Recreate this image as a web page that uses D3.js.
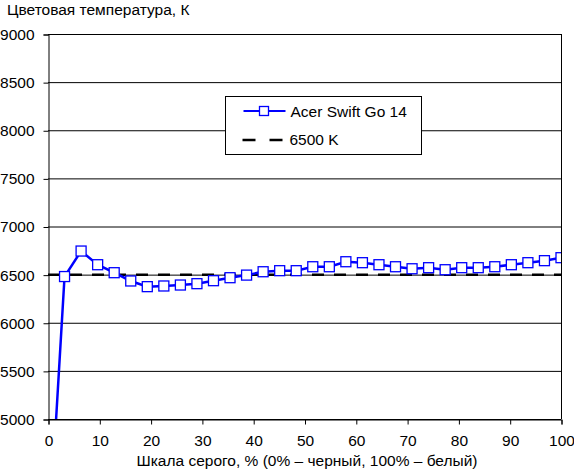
<!DOCTYPE html>
<html>
<head>
<meta charset="utf-8">
<script src="https://cdn.jsdelivr.net/npm/d3@7"></script>
<style>
body{margin:0;background:#fff;}
text{font-family:"Liberation Sans",Arial,sans-serif;}
</style>
</head>
<body>
<div id="container"></div>
<script>
// gray level, % (32 steps)
let grayLevels = d3.range(32).map(i => i * 100 / 31);
// color temperature, K
let tempValues = [3580, 6480, 6745, 6603, 6520, 6434, 6375, 6382, 6392, 6406, 6437, 6468,
	6495, 6530, 6541, 6541, 6582, 6582, 6634, 6624, 6603, 6582, 6561, 6572,
	6551, 6572, 6572, 6582, 6603, 6624, 6645, 6676];
let refTemp = 6500;
let xTicks = [0, 10, 20, 30, 40, 50, 60, 70, 80, 90, 100];
let yTicks = [5000, 5500, 6000, 6500, 7000, 7500, 8000, 8500, 9000];
let seriesName = "Acer Swift Go 14";
let refName = "6500 K";
let fontSize = "15.5px";

let margin = {top: 34, right: 13, bottom: 50, left: 48},
	width = 574 - margin.left - margin.right,
	height = 469 - margin.top - margin.bottom;

let xScale = d3.scaleLinear().domain([0, 100]).range([0, width]);
let yScale = d3.scaleLinear().domain([5000, 9000]).range([height, 0]);

let svg = d3.select("div#container").append("svg")
	.attr("width", 574).attr("height", 469)
	.append("g")
	.attr("transform", "translate(" + margin.left + "," + margin.top + ")");

svg.append("defs").append("clipPath").attr("id", "plotclip")
	.append("rect").attr("x", 0).attr("y", 0).attr("width", width).attr("height", height);

// gridlines
svg.selectAll("line.grid").data(yTicks).enter().append("line")
	.attr("class", "grid")
	.attr("x1", 0).attr("x2", width)
	.attr("y1", d => yScale(d) + 0.5).attr("y2", d => yScale(d) + 0.5)
	.attr("stroke", "black").attr("stroke-width", 1);

// right border
svg.append("line")
	.attr("x1", width + 0.5).attr("x2", width + 0.5)
	.attr("y1", 0).attr("y2", height)
	.attr("stroke", "black");

// axes
let yAxis = svg.append("g").attr("transform", "translate(0.5,0.5)")
	.call(d3.axisLeft(yScale).tickValues(yTicks).tickSize(5).tickPadding(9).tickFormat(d3.format("d")));
let xAxis = svg.append("g").attr("transform", "translate(0.5," + (height + 0.5) + ")")
	.call(d3.axisBottom(xScale).tickValues(xTicks).tickSize(5).tickPadding(10));
[xAxis, yAxis].forEach(function(ax){
	ax.select(".domain").attr("stroke", "black").attr("stroke-width", 1);
	ax.selectAll(".tick line").attr("stroke", "black");
	ax.selectAll("text").attr("fill", "black").style("font-size", fontSize)
		.style("font-family", "'Liberation Sans',Arial,sans-serif");
});

// 6500 K reference
svg.append("line")
	.attr("x1", 0).attr("x2", width)
	.attr("y1", yScale(refTemp)).attr("y2", yScale(refTemp))
	.attr("stroke", "black").attr("stroke-width", 2.5)
	.attr("stroke-dasharray", "12,10");

// series
let plot = svg.append("g").attr("clip-path", "url(#plotclip)");
let line = d3.line().x((d, i) => xScale(grayLevels[i])).y(d => yScale(d));
plot.append("path").datum(tempValues)
	.attr("fill", "none").attr("stroke", "#0000ff").attr("stroke-width", 2.5)
	.attr("d", line);
plot.selectAll("rect.mk").data(tempValues).enter().append("rect")
	.attr("class", "mk")
	.attr("x", (d, i) => xScale(grayLevels[i]) - 5)
	.attr("y", d => yScale(d) - 5)
	.attr("width", 10).attr("height", 10)
	.attr("fill", "white").attr("stroke", "#0000ff").attr("stroke-width", 1.3);

// legend
let lg = svg.append("g").attr("transform", "translate(" + (225.5 - margin.left) + "," + (96.5 - margin.top) + ")");
lg.append("rect").attr("width", 196).attr("height", 58)
	.attr("fill", "white").attr("stroke", "black");
lg.append("line").attr("x1", 18).attr("x2", 60).attr("y1", 14.5).attr("y2", 14.5)
	.attr("stroke", "#0000ff").attr("stroke-width", 2);
lg.append("rect").attr("x", 34).attr("y", 10).attr("width", 9).attr("height", 9)
	.attr("fill", "white").attr("stroke", "#0000ff").attr("stroke-width", 1.3);
lg.append("text").attr("x", 65).attr("y", 20.5).text(seriesName)
	.style("font-size", fontSize);
lg.append("line").attr("x1", 17).attr("x2", 57).attr("y1", 43.5).attr("y2", 43.5)
	.attr("stroke", "black").attr("stroke-width", 2.5).attr("stroke-dasharray", "13,14");
lg.append("text").attr("x", 64).attr("y", 48.5).text(refName)
	.style("font-size", fontSize);

// titles
svg.append("text").attr("x", 7 - margin.left).attr("y", 15 - margin.top)
	.text("Цветовая температура, К").style("font-size", fontSize);
svg.append("text").attr("x", 307 - margin.left).attr("y", 466 - margin.top)
	.attr("text-anchor", "middle")
	.text("Шкала серого, % (0% – черный, 100% – белый)").style("font-size", fontSize);
</script>
</body>
</html>
